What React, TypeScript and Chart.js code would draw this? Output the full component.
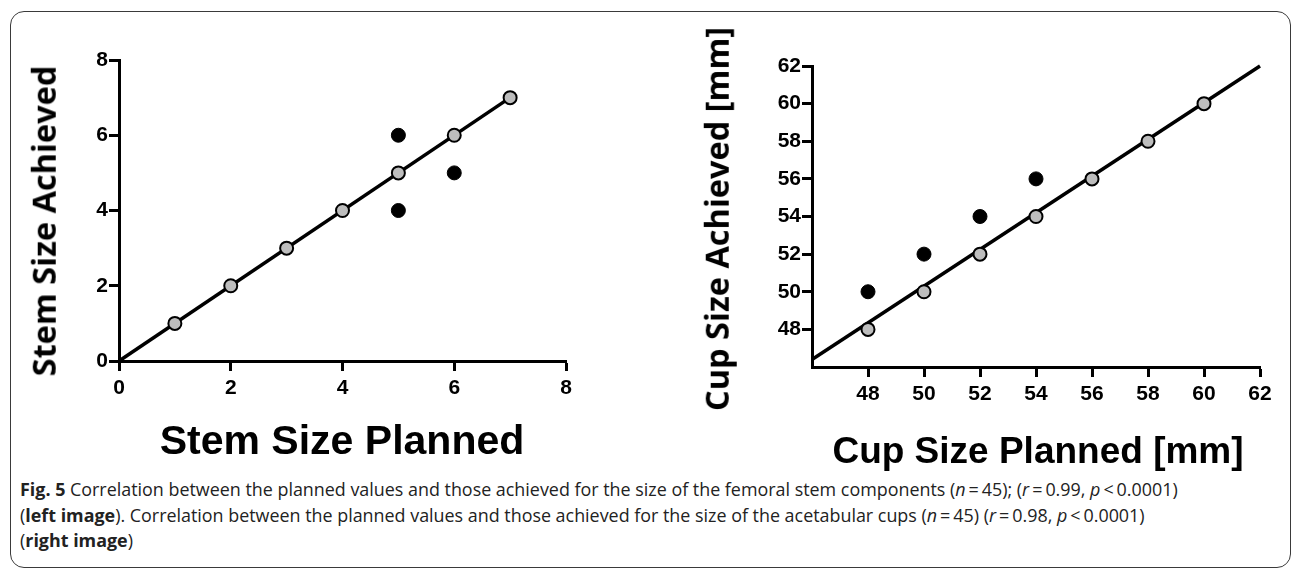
import React, { useEffect, useRef } from 'react';
import { Chart, registerables } from 'chart.js';

Chart.register(...registerables);

// ---- Left panel: femoral stem sizes ----
const stemPlannedMatch = [1, 2, 3, 4, 5, 6, 7];
const stemAchievedMatch = [1, 2, 3, 4, 5, 6, 7];
const stemPlannedMiss = [5, 5, 6];
const stemAchievedMiss = [6, 4, 5];
const stemFitX = [0, 7];
const stemFitY = [0, 7];
const stemTicks = [0, 2, 4, 6, 8];

// ---- Right panel: acetabular cup sizes [mm] ----
const cupPlannedMatch = [48, 50, 52, 54, 56, 58, 60];
const cupAchievedMatch = [48, 50, 52, 54, 56, 58, 60];
const cupPlannedMiss = [48, 50, 52, 54];
const cupAchievedMiss = [50, 52, 54, 56];
const cupFitX = [46, 62];
const cupFitY = [46.4, 62];
const cupTicks = [48, 50, 52, 54, 56, 58, 60, 62];

const zip = (xs: number[], ys: number[]) => xs.map((x, i) => ({ x, y: ys[i] }));

const tickFont = { family: '"Liberation Sans", Arial, sans-serif', size: 21, weight: 'bold' as const };

function makeScale(min: number, max: number, ticks: number[], horizontal: boolean, fixed: number) {
  return {
    type: 'linear' as const,
    min,
    max,
    afterBuildTicks: (scale: any) => {
      scale.ticks = ticks.map((v) => ({ value: v }));
    },
    afterFit: (scale: any) => {
      if (horizontal) scale.height = fixed;
      else scale.width = fixed;
      scale.paddingLeft = 0;
      scale.paddingRight = 0;
      scale.paddingTop = 0;
      scale.paddingBottom = 0;
    },
    ticks: {
      font: tickFont,
      color: '#000',
      padding: horizontal ? 5 : 1,
      autoSkip: false,
      maxRotation: 0,
      callback: (v: any) => String(v),
    },
    grid: {
      display: true,
      drawOnChartArea: false,
      drawTicks: true,
      tickLength: 10,
      tickWidth: 3,
      tickColor: '#000',
    },
    border: { display: true, width: 3, color: '#000' },
  };
}

function makeConfig(
  plannedMatch: number[],
  achievedMatch: number[],
  plannedMiss: number[],
  achievedMiss: number[],
  fitX: number[],
  fitY: number[],
  min: number,
  max: number,
  ticks: number[],
  padding: { left: number; right: number; top: number; bottom: number }
): any {
  return {
    type: 'scatter',
    data: {
      datasets: [
        {
          label: 'match',
          data: zip(plannedMatch, achievedMatch),
          backgroundColor: '#bdbdbd',
          borderColor: '#000',
          borderWidth: 2,
          pointRadius: 6.5,
          showLine: false,
          order: 1,
        },
        {
          label: 'miss',
          data: zip(plannedMiss, achievedMiss),
          backgroundColor: '#000',
          borderColor: '#000',
          borderWidth: 1,
          pointRadius: 7,
          showLine: false,
          order: 1,
        },
        {
          label: 'fit',
          data: zip(fitX, fitY),
          showLine: true,
          borderColor: '#000',
          borderWidth: 3.5,
          pointRadius: 0,
          fill: false,
          clip: false,
          order: 2,
        },
      ],
    },
    options: {
      animation: false,
      responsive: false,
      maintainAspectRatio: false,
      devicePixelRatio: 1,
      layout: { padding },
      plugins: { legend: { display: false }, tooltip: { enabled: false }, title: { display: false } },
      scales: {
        x: makeScale(min, max, ticks, true, 50),
        y: makeScale(min, max, ticks, false, 60),
      },
    },
  };
}

function Panel(props: { left: number; width: number; height: number; config: any }) {
  const ref = useRef<HTMLCanvasElement | null>(null);
  useEffect(() => {
    if (!ref.current) return;
    const chart = new Chart(ref.current, props.config);
    return () => chart.destroy();
  }, []);
  return (
    <canvas
      ref={ref}
      width={props.width}
      height={props.height}
      style={{ position: 'absolute', left: props.left, top: 0, width: props.width, height: props.height }}
    />
  );
}

const yTitleStyle = (cx: number, cy: number): React.CSSProperties => ({
  position: 'absolute',
  left: cx,
  top: cy,
  transform: 'translate(-50%, -50%) rotate(-90deg)',
  whiteSpace: 'nowrap',
  font: 'bold 32.5px "Open Sans", sans-serif',
  lineHeight: 1,
  color: '#000',
});

const xTitleStyle = (cx: number, cy: number, size: number): React.CSSProperties => ({
  position: 'absolute',
  left: cx,
  top: cy,
  transform: 'translate(-50%, -50%)',
  whiteSpace: 'nowrap',
  font: `bold ${size}px "Liberation Sans", Arial, sans-serif`,
  lineHeight: 1,
  color: '#000',
});

const thin = '\u2009';

export default function App() {
  const leftCfg = makeConfig(
    stemPlannedMatch, stemAchievedMatch, stemPlannedMiss, stemAchievedMiss, stemFitX, stemFitY,
    0, 8, stemTicks, { left: 59, right: 74, top: 60, bottom: 59 }
  );
  const rightCfg = makeConfig(
    cupPlannedMatch, cupAchievedMatch, cupPlannedMiss, cupAchievedMiss, cupFitX, cupFitY,
    46, 62, cupTicks, { left: 112, right: 33, top: 66, bottom: 53 }
  );
  const capLine: React.CSSProperties = { whiteSpace: 'nowrap', height: 25.5 };
  return (
    <div style={{ position: 'absolute', left: 0, top: 0, width: 1293, height: 571, background: '#fff', overflow: 'hidden' }}>
      <div
        style={{
          position: 'absolute', left: 10, top: 11, width: 1281, height: 557,
          border: '1.5px solid #3a3a3a', borderRadius: 14, boxSizing: 'border-box',
        }}
      />
      <Panel left={0} width={640} height={470} config={leftCfg} />
      <Panel left={640} width={653} height={470} config={rightCfg} />
      <div style={yTitleStyle(44, 221)}>Stem Size Achieved</div>
      <div style={yTitleStyle(717, 219)}>Cup Size Achieved [mm]</div>
      <div style={xTitleStyle(342, 440, 41)}>Stem Size Planned</div>
      <div style={xTitleStyle(1038, 450, 37)}>Cup Size Planned [mm]</div>
      <div
        style={{
          position: 'absolute', left: 20, top: 477, font: '17.9px "Open Sans", sans-serif',
          lineHeight: '25.5px', color: '#222',
        }}
      >
        <div style={capLine}>
          <b>Fig. 5</b> Correlation between the planned values and those achieved for the size of the femoral stem components (<i>n</i>{thin}={thin}45); (<i>r</i>{thin}={thin}0.99, <i>p</i>{thin}&lt;{thin}0.0001)
        </div>
        <div style={capLine}>
          (<b>left image</b>). Correlation between the planned values and those achieved for the size of the acetabular cups (<i>n</i>{thin}={thin}45) (<i>r</i>{thin}={thin}0.98, <i>p</i>{thin}&lt;{thin}0.0001)
        </div>
        <div style={capLine}>
          (<b>right image</b>)
        </div>
      </div>
    </div>
  );
}
